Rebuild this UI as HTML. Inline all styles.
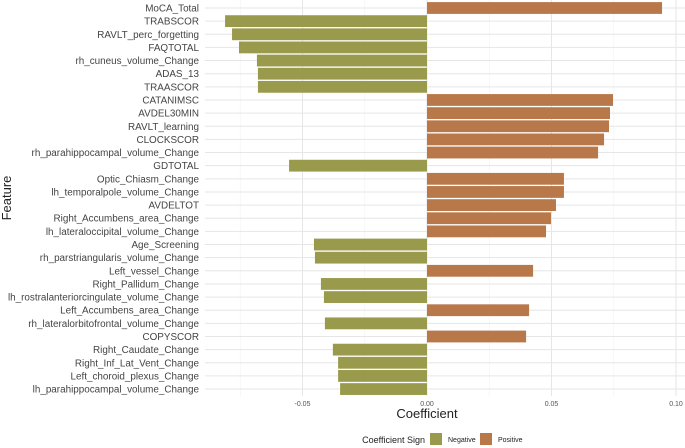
<!DOCTYPE html>
<html><head><meta charset="utf-8"><style>
body{margin:0;background:#fff;}
svg{display:block;font-family:"Liberation Sans",sans-serif;}
</style></head><body>
<svg id="chart" width="685" height="448">
<g id="grid"></g>
<g id="bars"></g>
<g id="ylabels"></g>
<g id="xlabels"></g>
<text x="427" y="418" text-anchor="middle" font-size="13" fill="#222">Coefficient</text>
<text transform="translate(11,198) rotate(-90)" text-anchor="middle" font-size="13" fill="#222">Feature</text>
<g>
<text x="425" y="443" text-anchor="end" font-size="9" fill="#222">Coefficient Sign</text>
<rect x="430" y="433" width="12" height="12" fill="#9a9a4c"/>
<text x="448" y="442" font-size="7" fill="#222">Negative</text>
<rect x="480" y="433" width="12" height="12" fill="#b9784a"/>
<text x="498" y="442" font-size="7" fill="#222">Positive</text>
</g>
</svg>
<script>
const features=["MoCA_Total","TRABSCOR","RAVLT_perc_forgetting","FAQTOTAL","rh_cuneus_volume_Change","ADAS_13","TRAASCOR","CATANIMSC","AVDEL30MIN","RAVLT_learning","CLOCKSCOR","rh_parahippocampal_volume_Change","GDTOTAL","Optic_Chiasm_Change","lh_temporalpole_volume_Change","AVDELTOT","Right_Accumbens_area_Change","lh_lateraloccipital_volume_Change","Age_Screening","rh_parstriangularis_volume_Change","Left_vessel_Change","Right_Pallidum_Change","lh_rostralanteriorcingulate_volume_Change","Left_Accumbens_area_Change","rh_lateralorbitofrontal_volume_Change","COPYSCOR","Right_Caudate_Change","Right_Inf_Lat_Vent_Change","Left_choroid_plexus_Change","lh_parahippocampal_volume_Change"];
const coefficients=[0.0944,-0.0811,-0.0783,-0.0755,-0.0683,-0.0679,-0.0679,0.0747,0.0735,0.0731,0.0711,0.0687,-0.0554,0.055,0.055,0.0518,0.0498,0.0478,-0.0454,-0.045,0.0426,-0.0426,-0.0414,0.041,-0.041,0.0398,-0.0378,-0.0357,-0.0357,-0.0349];
const xTicks=[-0.05,0,0.05,0.1];
const xTickLabels=["-0.05","0.00","0.05","0.10"];
const minorTicks=[-0.075,-0.025,0.025,0.075];
const NS="http://www.w3.org/2000/svg";
const x=v=>427+v*2490;
const step=13.14, y0=8;
const y=i=>y0+i*step;
function mk(t,a,p){const e=document.createElementNS(NS,t);for(const k in a)e.setAttribute(k,a[k]);p.appendChild(e);return e;}
const grid=document.getElementById('grid');
minorTicks.forEach(v=>{const l=mk('line',{x1:x(v),x2:x(v),y1:0,y2:396,stroke:'#f2f2f2','stroke-width':0.6},grid);

});
xTicks.forEach(v=>{const l=mk('line',{x1:x(v),x2:x(v),y1:0,y2:396,stroke:'#e6e6e6','stroke-width':1},grid);

});
features.forEach((f,i)=>{const l=mk('line',{x1:205,x2:685,y1:y(i),y2:y(i),stroke:'#e6e6e6','stroke-width':1},grid);

});
const bars=document.getElementById('bars');
coefficients.forEach((v,i)=>{const a=x(0),b=x(v);
const r=mk('rect',{x:Math.min(a,b),y:y(i)-5.9,width:Math.abs(b-a),height:11.8,fill:v<0?'#9a9a4c':'#b9784a'},bars);

});
const yl=document.getElementById('ylabels');
features.forEach((f,i)=>{const t=mk('text',{x:199,y:y(i)+3.5,'text-anchor':'end','font-size':'9.9',fill:'#444'},yl);t.textContent=f;

});
const xl=document.getElementById('xlabels');
xTicks.forEach((v,i)=>{const t=mk('text',{x:x(v),y:406,'text-anchor':'middle','font-size':'7',fill:'#555'},xl);t.textContent=xTickLabels[i];

});
</script>
</body></html>
